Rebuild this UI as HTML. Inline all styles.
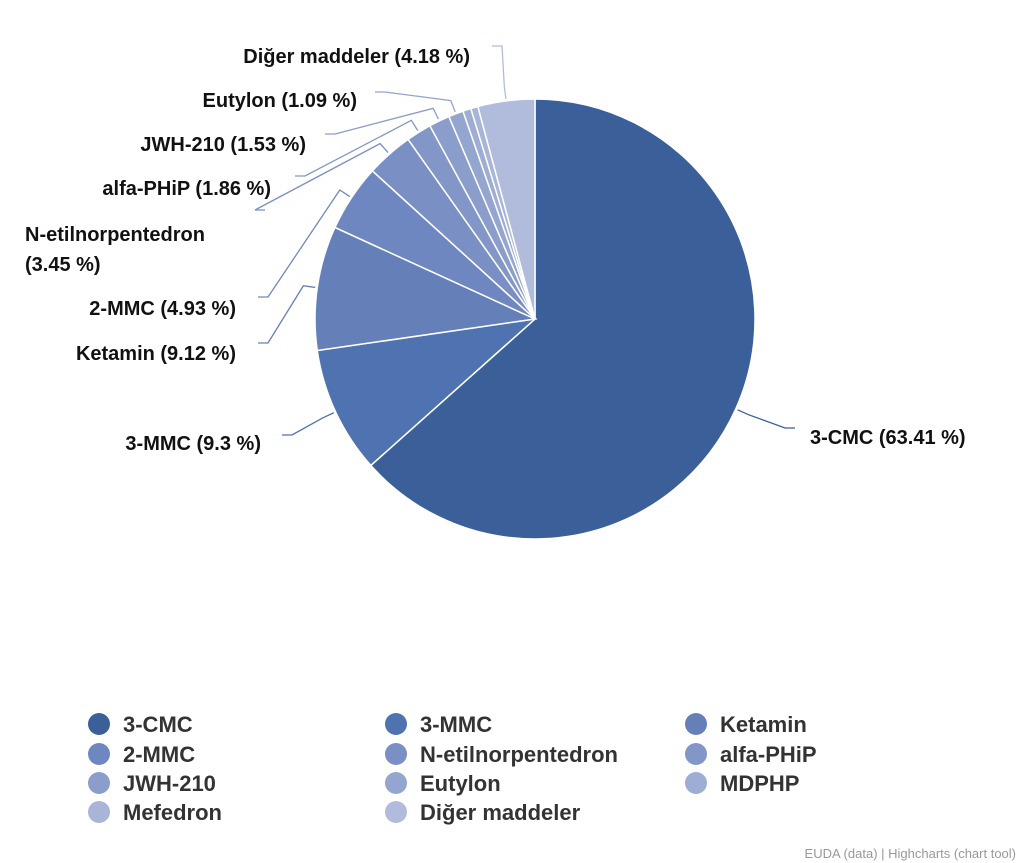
<!DOCTYPE html>
<html><head><meta charset="utf-8"><style>
body{margin:0;background:#fff;font-family:"Liberation Sans",sans-serif;}
svg{display:block}
</style></head><body>
<svg id="chart" width="1024" height="863">
<g id="slices"></g>
<g id="conns"></g>
<g id="labels"></g>
<g id="legend"></g>
<text x="1016" y="858" text-anchor="end" font-size="13" fill="#999">EUDA (data) | Highcharts (chart tool)</text>
</svg>
<script>
const categories=["3-CMC","3-MMC","Ketamin","2-MMC","N-etilnorpentedron","alfa-PHiP","JWH-210","Eutylon","MDPHP","Mefedron","Diğer maddeler"];
const values=[63.41,9.3,9.12,4.93,3.45,1.86,1.53,1.09,0.6,0.53,4.18];
const colors=["#3b5f99","#4f72b0","#6580b9","#6f87c0","#7a8fc4","#8396c8","#8b9dcb","#94a5cf","#9eadd4","#a8b5d8","#b1bcdc"];
const cx=535,cy=319,R=220;
const NS="http://www.w3.org/2000/svg";
// label layout: [anchor-x, text-y, line-start-x, line-start-y, text-anchor]
const labelLayout={
0:[810,444,795,428,"start"],1:[261,450,282,435,"end"],2:[236,360,258,343,"end"],3:[236,315,258,297,"end"],
4:[25,241,265,210,"start"],5:[271,195,295,176,"end"],6:[306,151,325,134,"end"],7:[357,107,375,92,"end"],10:[470,63,492,46,"end"]};
const total=values.reduce((a,b)=>a+b,0);
function pt(a,r){return [cx+r*Math.sin(a),cy-r*Math.cos(a)];}
let acc=0;
const sg=document.getElementById('slices'),cg=document.getElementById('conns'),lg=document.getElementById('labels');
values.forEach((v,i)=>{
  const a0=acc/total*2*Math.PI;acc+=v;const a1=acc/total*2*Math.PI;
  const p0=pt(a0,R),p1=pt(a1,R);
  const p=document.createElementNS(NS,'path');
  p.setAttribute('d',`M${cx},${cy}L${p0[0]},${p0[1]}A${R},${R} 0 ${a1-a0>Math.PI?1:0} 1 ${p1[0]},${p1[1]}Z`);
  p.setAttribute('fill',colors[i]);p.setAttribute('stroke','#fff');p.setAttribute('stroke-width','1.5');
  
  
  sg.appendChild(p);
  const L=labelLayout[i];
  if(L){
    const m=(a0+a1)/2,e=pt(m,R+2),e2=pt(m,R+14);
    const l=document.createElementNS(NS,'path');
    const hx=L[4]==="start"?L[2]-10:L[2]+10;
    l.setAttribute('d',`M${L[2]},${L[3]}L${hx},${L[3]}L${e2[0]},${e2[1]}L${e[0]},${e[1]}`);
    l.setAttribute('fill','none');l.setAttribute('stroke',colors[i]);l.setAttribute('stroke-width','1.3');
    
    
    cg.appendChild(l);
    const t=document.createElementNS(NS,'text');
    t.setAttribute('x',L[0]);t.setAttribute('y',L[1]);t.setAttribute('text-anchor',L[4]);
    t.setAttribute('font-size','20');t.setAttribute('font-weight','bold');t.setAttribute('fill','#111');
    
    
    if(i===4){t.innerHTML=`<tspan x="${L[0]}">${categories[i]}</tspan><tspan x="${L[0]}" dy="30">(${v} %)</tspan>`;}
    else t.textContent=`${categories[i]} (${v} %)`;
    lg.appendChild(t);
  }
});
const leg=document.getElementById('legend');
const colX=[88,385,685],rowY=[724,754,783,812];
categories.forEach((c,i)=>{
  const g=document.createElementNS(NS,'g');
  
  
  const x=colX[i%3],y=rowY[Math.floor(i/3)];
  const ci=document.createElementNS(NS,'circle');
  ci.setAttribute('cx',x+11);ci.setAttribute('cy',y);ci.setAttribute('r',11);ci.setAttribute('fill',colors[i]);
  const t=document.createElementNS(NS,'text');
  t.setAttribute('x',x+35);t.setAttribute('y',y+8);t.setAttribute('font-size','22');t.setAttribute('font-weight','bold');t.setAttribute('fill','#333');
  t.textContent=c;
  g.appendChild(ci);g.appendChild(t);leg.appendChild(g);
});
</script>
</body></html>
